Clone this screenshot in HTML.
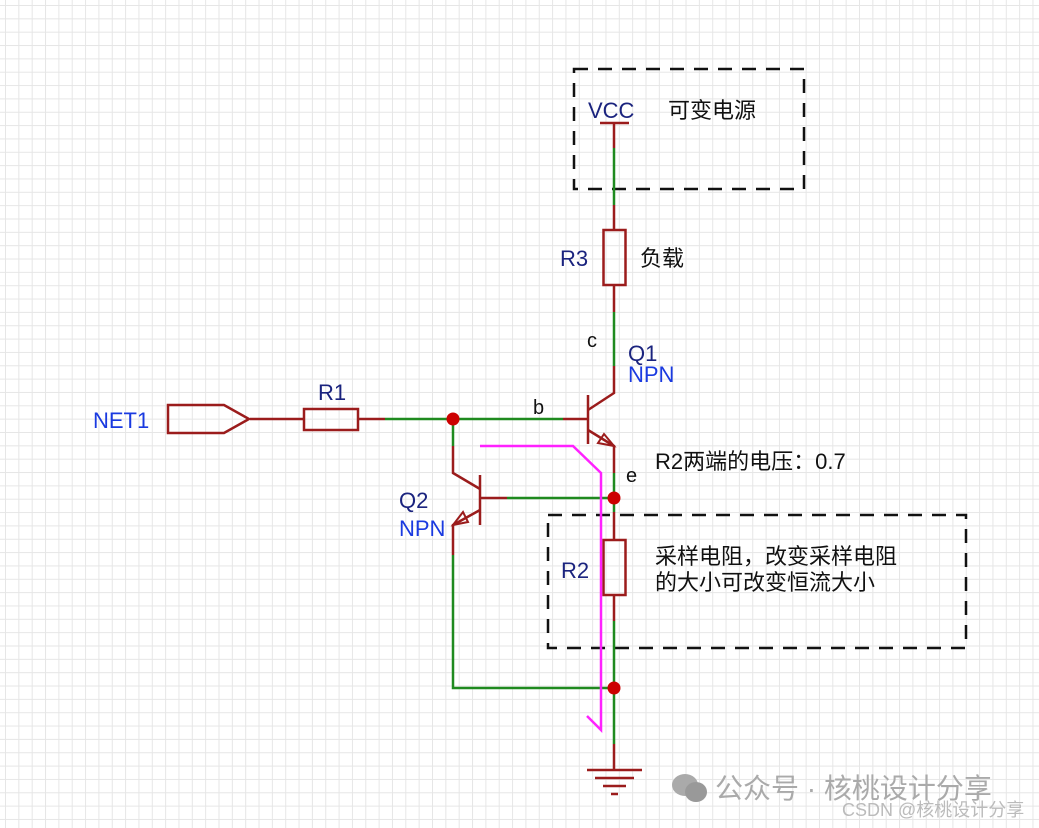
<!DOCTYPE html>
<html><head><meta charset="utf-8"><style>
html,body{margin:0;padding:0;}
body{width:1039px;height:828px;overflow:hidden;background:#fff;
background-image:linear-gradient(#e6e6e6 1px,transparent 1px),linear-gradient(90deg,#e6e6e6 1px,transparent 1px);
background-size:13.35px 13.35px;background-position:5px 5px;}
svg{position:absolute;left:0;top:0;}
text{font-family:"Liberation Sans","Noto Sans CJK SC",sans-serif;}
</style></head><body>
<svg width="1039" height="828" viewBox="0 0 1039 828">
<g fill="none" stroke-width="2.5">
<rect x="574" y="69" width="230" height="120" stroke="#111" stroke-dasharray="14,10"/>
<rect x="548" y="515" width="418" height="133" stroke="#111" stroke-dasharray="14,10"/>
<line x1="600" y1="123" x2="629" y2="123" stroke="#9b1c1c"/>
<line x1="614" y1="123" x2="614" y2="148" stroke="#9b1c1c"/>
<line x1="614" y1="148" x2="614" y2="205" stroke="#1f8a1f"/>
<line x1="614" y1="205" x2="614" y2="230" stroke="#9b1c1c"/>
<rect x="603.5" y="230" width="22" height="55" stroke="#9b1c1c"/>
<line x1="614" y1="285" x2="614" y2="312" stroke="#9b1c1c"/>
<line x1="614" y1="312" x2="614" y2="366" stroke="#1f8a1f"/>
<polyline points="614,366 614,393 588,410" stroke="#9b1c1c"/>
<line x1="588" y1="395" x2="588" y2="444" stroke="#9b1c1c"/>
<line x1="563" y1="419" x2="588" y2="419" stroke="#9b1c1c"/>
<polyline points="588,430 614,446 614,473" stroke="#9b1c1c"/>
<polygon points="614,446 598,443 604,434" stroke="#9b1c1c" stroke-width="2"/>
<line x1="614" y1="473" x2="614" y2="498" stroke="#1f8a1f"/>
<line x1="250" y1="419" x2="304" y2="419" stroke="#9b1c1c"/>
<rect x="304" y="409" width="54" height="21" stroke="#9b1c1c"/>
<line x1="358" y1="419" x2="385" y2="419" stroke="#9b1c1c"/>
<line x1="385" y1="419" x2="563" y2="419" stroke="#1f8a1f"/>
<polygon points="168,405 224,405 249,419 224,433 168,433" stroke="#9b1c1c"/>
<line x1="453" y1="419" x2="453" y2="446" stroke="#1f8a1f"/>
<polyline points="453,446 453,473 480,489" stroke="#9b1c1c"/>
<line x1="480" y1="475" x2="480" y2="525" stroke="#9b1c1c"/>
<line x1="480" y1="498" x2="507" y2="498" stroke="#9b1c1c"/>
<line x1="507" y1="498" x2="614" y2="498" stroke="#1f8a1f"/>
<polyline points="480,510 453,525 453,555" stroke="#9b1c1c"/>
<polygon points="453,525 463,512 468,522" stroke="#9b1c1c" stroke-width="2"/>
<polyline points="453,555 453,688 614,688" stroke="#1f8a1f"/>
<line x1="614" y1="498" x2="614" y2="512" stroke="#1f8a1f"/>
<line x1="614" y1="512" x2="614" y2="540" stroke="#9b1c1c"/>
<rect x="603.5" y="540" width="22" height="55" stroke="#9b1c1c"/>
<line x1="614" y1="595" x2="614" y2="621" stroke="#9b1c1c"/>
<line x1="614" y1="621" x2="614" y2="744" stroke="#1f8a1f"/>
<line x1="614" y1="744" x2="614" y2="770" stroke="#9b1c1c"/>
<line x1="587" y1="770" x2="642" y2="770" stroke="#9b1c1c"/>
<line x1="595" y1="778" x2="634" y2="778" stroke="#9b1c1c"/>
<line x1="603" y1="786" x2="626" y2="786" stroke="#9b1c1c"/>
<line x1="611" y1="794" x2="618" y2="794" stroke="#9b1c1c"/>
<polyline points="480,446 573,446 601,473 601,730 587,716" stroke="#ff22ff"/>
</g>
<g fill="#cc0000">
<circle cx="453" cy="419" r="6.5"/>
<circle cx="614" cy="498" r="6.5"/>
<circle cx="614" cy="688" r="6.5"/>
</g>
<g font-size="22">
<text x="588" y="118" fill="#1a237e">VCC</text>
<text x="668" y="118" fill="#111">可变电源</text>
<text x="560" y="266" fill="#1a237e">R3</text>
<text x="640" y="266" fill="#111">负载</text>
<text x="587" y="347" fill="#111" font-size="20">c</text>
<text x="628" y="361" fill="#1a237e">Q1</text>
<text x="628" y="382" fill="#1a3ae0">NPN</text>
<text x="533" y="414" fill="#111" font-size="20">b</text>
<text x="318" y="400" fill="#1a237e">R1</text>
<text x="93" y="428" fill="#1a3ae0">NET1</text>
<text x="655" y="469" fill="#111">R2两端的电压：0.7</text>
<text x="626" y="482" fill="#111" font-size="20">e</text>
<text x="399" y="508" fill="#1a237e">Q2</text>
<text x="399" y="536" fill="#1a3ae0">NPN</text>
<text x="561" y="578" fill="#1a237e">R2</text>
<text x="655" y="564" fill="#111">采样电阻，改变采样电阻</text>
<text x="655" y="590" fill="#111">的大小可改变恒流大小</text>
<text x="715" y="798" fill="#aaa" font-size="28">公众号 · 核桃设计分享</text>
<text x="842" y="816" fill="#bbb" font-size="18">CSDN @核桃设计分享</text>
</g>
<g fill="#aaa">
<ellipse cx="685" cy="785" rx="13" ry="11"/>
<ellipse cx="696" cy="792" rx="11" ry="10" fill="#999"/>
</g>
</svg>
</body></html>
